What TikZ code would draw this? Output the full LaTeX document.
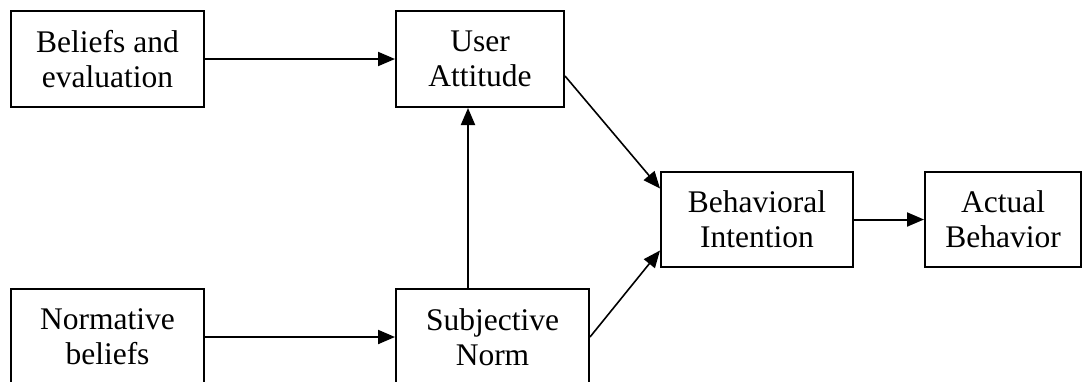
\documentclass[tikz,border=0pt]{standalone}
\usepackage{fontspec}
\setmainfont{Liberation Serif}
\usetikzlibrary{arrows.meta}
\begin{document}
\begin{tikzpicture}[x=1pt,y=-1pt,
  box/.style={draw,line width=2pt,align=center,inner sep=0pt,
    font=\fontsize{31.5}{35}\selectfont},
  conn/.style={line width=2pt,-{Triangle[length=17pt,width=14pt]}},
  diag/.style={line width=1.6pt,-{Triangle[length=17pt,width=14pt]}}]
\useasboundingbox (0,0) rectangle (1083,381);
\clip (0,0) rectangle (1083,381);
\node[box,minimum width=193pt,minimum height=96pt] (be) at (107.5,59) {Beliefs and\\evaluation};
\node[box,minimum width=168pt,minimum height=96pt] (ua) at (480,59) {User\\Attitude};
\node[box,minimum width=192pt,minimum height=95pt] (bi) at (757,219.5) {Behavioral\\Intention};
\node[box,minimum width=156pt,minimum height=95pt] (ab) at (1003,219.5) {Actual\\Behavior};
\node[box,minimum width=193pt,minimum height=96pt] (nb) at (107.5,337) {Normative\\beliefs};
\node[box,minimum width=193pt,minimum height=96pt] (sn) at (492.5,337) {Subjective\\Norm};
\draw[conn] (be.east) -- (ua.west);
\draw[conn] (nb.east) -- (sn.west);
\draw[conn] ([xshift=73pt]sn.north west) -- ([xshift=73pt]ua.south west);
\draw[diag] ([yshift=-17pt]ua.east) -- ([yshift=31pt]bi.west);
\draw[diag] (sn.east) -- ([yshift=-31pt]bi.west);
\draw[conn] (bi.east) -- (ab.west);
\end{tikzpicture}
\end{document}
